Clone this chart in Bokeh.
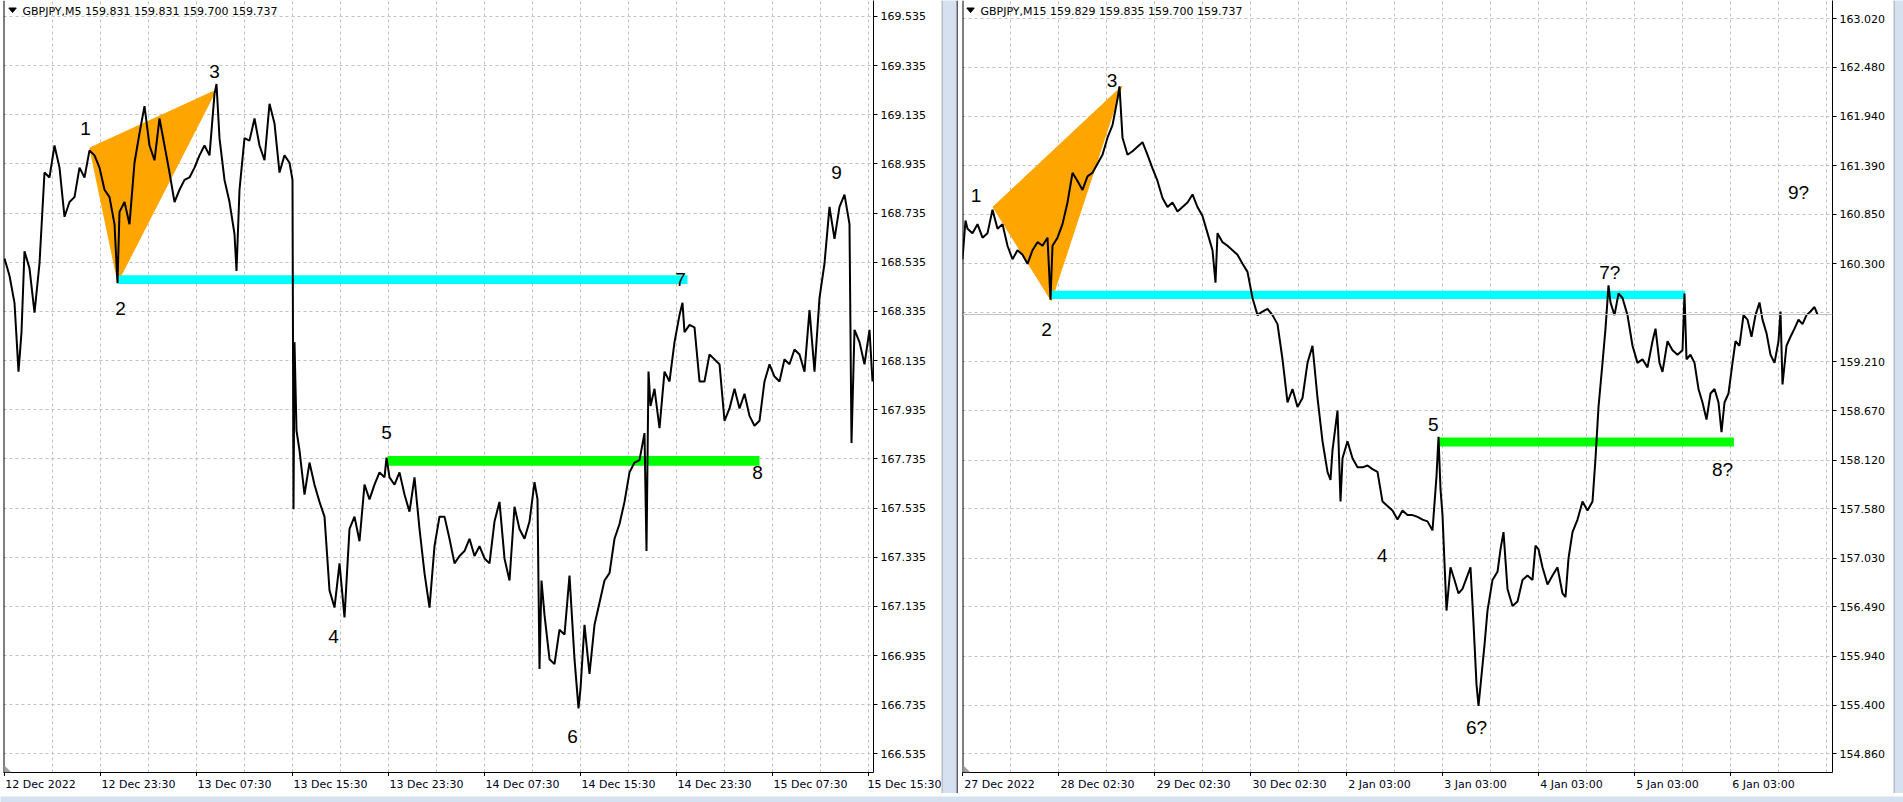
from bokeh.plotting import figure
from bokeh.models import (FixedTicker, PrintfTickFormatter, Label, LabelSet, ColumnDataSource,
                          Span, Range1d, PolyAnnotation)
from bokeh.layouts import row, column
from bokeh.embed import file_html
from bokeh.resources import INLINE
from bokeh.core.properties import value

# ---------------- Left panel : GBPJPY M5 ----------------
L_TITLE = "GBPJPY,M5  159.831 159.831 159.700 159.737"
L_DATES = ["12 Dec 2022", "12 Dec 23:30", "13 Dec 07:30", "13 Dec 15:30", "13 Dec 23:30",
           "14 Dec 07:30", "14 Dec 15:30", "14 Dec 23:30", "15 Dec 07:30", "15 Dec 15:30"]
L_DATE_BARS = [0, 96, 192, 288, 384, 480, 576, 672, 768, 864]
L_YTICKS = [169.535, 169.335, 169.135, 168.935, 168.735, 168.535, 168.335, 168.135,
            167.935, 167.735, 167.535, 167.335, 167.135, 166.935, 166.735, 166.535]
L_SERIES = [(0, 168.55), (5, 168.48), (10, 168.37), (14, 168.09), (17, 168.25), (20, 168.58),
            (25, 168.51), (30, 168.33), (35, 168.53), (40, 168.90), (45, 168.88), (50, 169.01),
            (55, 168.92), (60, 168.72), (65, 168.78), (70, 168.80), (75, 168.92), (80, 168.88),
            (85, 168.99), (90, 168.97), (95, 168.92), (100, 168.83), (105, 168.80), (110, 168.69),
            (113, 168.45), (115, 168.74), (120, 168.78), (125, 168.69), (130, 168.94), (135, 169.06),
            (140, 169.17), (145, 169.01), (150, 168.95), (155, 169.12), (160, 169.01), (165, 168.90),
            (170, 168.78), (175, 168.83), (180, 168.87), (185, 168.88), (190, 168.92), (195, 168.97),
            (200, 169.01), (205, 168.97), (210, 169.22), (212, 169.26), (215, 169.04), (220, 168.87),
            (225, 168.78), (230, 168.65), (232, 168.50), (235, 168.83), (240, 169.04), (245, 169.03),
            (250, 169.12), (255, 169.01), (260, 168.95), (265, 169.18), (270, 169.10), (275, 168.90),
            (280, 168.97), (285, 168.94), (288, 168.87), (289, 167.53), (290, 168.21), (292, 167.85),
            (295, 167.77), (300, 167.59), (305, 167.72), (310, 167.63), (315, 167.56), (320, 167.50),
            (325, 167.20), (330, 167.13), (335, 167.31), (340, 167.09), (345, 167.45), (350, 167.50),
            (355, 167.40), (360, 167.63), (365, 167.57), (370, 167.63), (375, 167.68), (380, 167.66),
            (382, 167.74), (385, 167.66), (390, 167.63), (395, 167.68), (400, 167.59), (405, 167.52),
            (410, 167.66), (415, 167.45), (420, 167.27), (425, 167.13), (430, 167.38), (435, 167.50),
            (440, 167.50), (445, 167.41), (450, 167.31), (455, 167.34), (460, 167.36), (465, 167.41),
            (470, 167.34), (475, 167.38), (480, 167.33), (485, 167.31), (490, 167.48), (495, 167.56),
            (500, 167.33), (505, 167.24), (510, 167.54), (515, 167.45), (520, 167.41), (525, 167.48),
            (530, 167.64), (533, 167.57), (535, 166.88), (537, 167.24), (540, 167.10), (545, 166.92),
            (550, 166.90), (555, 167.04), (560, 167.02), (565, 167.26), (570, 166.92), (574, 166.72),
            (576, 166.80), (580, 167.06), (585, 166.86), (590, 167.06), (595, 167.15), (600, 167.24),
            (605, 167.27), (610, 167.41), (615, 167.47), (620, 167.56), (625, 167.68), (630, 167.72),
            (635, 167.73), (640, 167.84), (642, 167.36), (644, 168.09), (646, 167.95), (650, 168.02),
            (655, 167.86), (660, 168.09), (665, 168.05), (670, 168.21), (675, 168.32), (678, 168.37),
            (680, 168.25), (685, 168.28), (690, 168.27), (695, 168.05), (700, 168.05), (705, 168.16),
            (710, 168.14), (715, 168.12), (720, 167.89), (725, 167.94), (730, 168.02), (735, 167.94),
            (740, 168.00), (745, 167.91), (750, 167.87), (755, 167.89), (760, 168.05), (765, 168.12),
            (770, 168.07), (775, 168.05), (780, 168.14), (785, 168.12), (790, 168.18), (795, 168.16),
            (800, 168.09), (805, 168.34), (810, 168.09), (815, 168.39), (820, 168.53), (825, 168.76),
            (830, 168.63), (835, 168.76), (840, 168.81), (845, 168.69), (847, 167.80), (850, 168.26),
            (855, 168.21), (860, 168.12), (865, 168.26), (868, 168.05)]
L_PATTERN_BARS = [85.3, 113.3, 211.5]
L_PATTERN_PRICES = [169.00, 168.455, 169.235]
L_CYAN = [113.3, 683.0, 168.447, 168.482]     # from bar, to bar, low, high
L_GREEN = [383.0, 755.0, 167.707, 167.747]
L_MARKS = ["1", "2", "3", "4", "5", "6", "7", "8", "9"]
L_MARK_BARS = [81, 116, 210, 329, 382, 568, 676, 753, 832]
L_MARK_PRICES = [169.079, 168.347, 169.311, 167.012, 167.842, 166.605, 168.465, 167.679, 168.900]

# ---------------- Right panel : GBPJPY M15 ----------------
R_TITLE = "GBPJPY,M15  159.829 159.835 159.700 159.737"
R_DATES = ["27 Dec 2022", "28 Dec 02:30", "29 Dec 02:30", "30 Dec 02:30", "2 Jan 03:00",
           "3 Jan 03:00", "4 Jan 03:00", "5 Jan 03:00", "6 Jan 03:00"]
R_DATE_BARS = [0, 96, 192, 288, 384, 480, 576, 672, 768]
R_YTICKS = [163.020, 162.480, 161.940, 161.390, 160.850, 160.300, 159.760, 159.210, 158.670,
            158.120, 157.580, 157.030, 156.490, 155.940, 155.400, 154.860]
R_LAST = 159.737
R_SERIES = [(0, 160.35), (3, 160.78), (5, 160.69), (10, 160.64), (15, 160.74), (20, 160.59),
            (25, 160.64), (30, 160.90), (35, 160.69), (40, 160.74), (45, 160.50), (50, 160.35),
            (55, 160.45), (60, 160.40), (65, 160.30), (70, 160.45), (75, 160.54), (80, 160.50),
            (85, 160.59), (88, 159.90), (90, 160.50), (95, 160.59), (100, 160.74), (105, 160.98),
            (110, 161.31), (115, 161.22), (120, 161.12), (125, 161.27), (130, 161.31), (135, 161.41),
            (140, 161.51), (145, 161.70), (150, 161.84), (155, 162.13), (157, 162.27), (160, 161.70),
            (165, 161.51), (170, 161.55), (175, 161.60), (180, 161.65), (185, 161.51), (190, 161.36),
            (195, 161.22), (200, 161.03), (205, 160.93), (210, 160.98), (215, 160.88), (220, 160.93),
            (225, 160.98), (230, 161.07), (235, 160.93), (240, 160.83), (245, 160.64), (250, 160.45),
            (253, 160.09), (255, 160.64), (260, 160.54), (265, 160.50), (270, 160.45), (275, 160.40),
            (280, 160.30), (285, 160.21), (290, 159.92), (295, 159.73), (300, 159.77), (305, 159.80),
            (310, 159.73), (315, 159.63), (320, 159.24), (325, 158.76), (330, 158.91), (335, 158.71),
            (340, 158.81), (345, 159.20), (350, 159.39), (355, 158.81), (360, 158.33), (365, 157.99),
            (368, 157.90), (370, 158.23), (375, 158.67), (378, 157.66), (380, 158.14), (385, 158.33),
            (390, 158.14), (395, 158.04), (400, 158.04), (405, 158.06), (410, 158.02), (415, 157.99),
            (420, 157.66), (425, 157.61), (430, 157.56), (435, 157.46), (440, 157.56), (445, 157.51),
            (450, 157.51), (455, 157.49), (460, 157.46), (465, 157.44), (470, 157.34), (474, 157.94),
            (476, 158.38), (478, 157.80), (480, 157.51), (484, 156.45), (488, 156.93), (492, 156.79),
            (496, 156.64), (500, 156.69), (505, 156.84), (508, 156.93), (511, 156.31), (514, 155.63),
            (516, 155.39), (519, 155.73), (522, 156.07), (525, 156.45), (530, 156.79), (535, 156.88),
            (538, 157.13), (541, 157.32), (545, 156.69), (550, 156.50), (555, 156.55), (560, 156.79),
            (565, 156.84), (570, 156.79), (573, 157.17), (576, 157.13), (580, 156.93), (585, 156.74),
            (590, 156.84), (595, 156.93), (600, 156.64), (603, 156.60), (606, 157.03), (610, 157.32),
            (615, 157.46), (620, 157.66), (625, 157.56), (630, 157.66), (633, 158.14), (636, 158.71),
            (640, 159.20), (643, 159.58), (646, 160.06), (648, 159.87), (652, 159.73), (656, 159.97),
            (660, 159.92), (665, 159.73), (670, 159.39), (675, 159.20), (680, 159.24), (685, 159.15),
            (690, 159.44), (693, 159.58), (697, 159.20), (700, 159.10), (705, 159.44), (710, 159.34),
            (715, 159.29), (720, 159.34), (722, 159.97), (724, 159.24), (728, 159.29), (732, 159.20),
            (736, 158.91), (740, 158.76), (744, 158.57), (748, 158.86), (752, 158.91), (756, 158.76),
            (759, 158.43), (762, 158.76), (766, 158.86), (770, 159.20), (773, 159.44), (777, 159.39),
            (781, 159.73), (785, 159.68), (789, 159.49), (793, 159.73), (797, 159.87), (800, 159.68),
            (804, 159.53), (808, 159.29), (812, 159.20), (816, 159.44), (818, 159.77), (820, 158.96),
            (824, 159.39), (828, 159.49), (832, 159.58), (836, 159.68), (840, 159.63), (844, 159.73),
            (848, 159.77), (852, 159.82), (855, 159.737)]
R_PATTERN_BARS = [30.5, 88.8, 159.3]
R_PATTERN_PRICES = [160.93, 159.89, 162.27]
R_CYAN = [88.8, 722.5, 159.91, 160.00]
R_GREEN = [475.6, 771.4, 158.27, 158.37]
R_MARKS = ["1", "2", "3", "4", "5", "6?", "7?", "8?", "9?"]
R_MARK_BARS = [13.5, 84, 149.5, 419.7, 470.8, 514, 647.3, 760, 836]
R_MARK_PRICES = [161.053, 159.569, 162.340, 157.063, 158.519, 155.151, 160.206, 158.012, 161.087]

FONT = "DejaVu Sans"
MARK_FONT = "Liberation Sans"
FRAME_W, FRAME_H = 870, 772
TICK_BORDER = 4          # room for the x tick marks under each chart
DATE_H = 17              # strip carrying the date labels
FRAME_BLUE = "#d5e1f0"

# approximate DejaVu Sans advance widths (em) used to left-align date labels at their ticks
_W = {" ": 0.318, ":": 0.337, "D": 0.770, "e": 0.615, "c": 0.550, "J": 0.295, "a": 0.613, "n": 0.634}


def text_w(s, px=11):
    return sum(_W.get(ch, 0.636) for ch in s) * px


def panel(title, x0, x1, y0, y1, yticks, ylabel_ticks, date_bars, series,
          pat_x, pat_y, cyan, green, marks, mark_x, mark_y, b_left, b_right, title_x, tri_x):
    p = figure(frame_width=FRAME_W, frame_height=FRAME_H, x_range=Range1d(x0, x1),
               y_range=Range1d(y0, y1), y_axis_location="right", toolbar_location=None,
               output_backend="svg", min_border_left=b_left, min_border_right=b_right,
               min_border_top=0, min_border_bottom=TICK_BORDER, outline_line_color=None,
               background_fill_color="white", border_fill_color="white")
    # axes
    p.yaxis.ticker = FixedTicker(ticks=ylabel_ticks)
    p.yaxis.formatter = PrintfTickFormatter(format="%.3f")
    p.xaxis.ticker = FixedTicker(ticks=date_bars)
    p.xaxis.major_label_overrides = {b: "" for b in date_bars}
    p.xaxis.major_label_standoff = 0
    for ax in (p.xaxis[0], p.yaxis[0]):
        ax.axis_line_color = "black"
        ax.major_tick_line_color = "black"
        ax.minor_tick_line_color = None
        ax.major_tick_in = 0
        ax.major_tick_out = 4
        ax.major_label_text_font = FONT
        ax.major_label_text_font_size = "11px"
        ax.major_label_text_color = "black"
    p.xaxis.major_label_text_font_size = "0px"
    p.yaxis.major_label_standoff = 3

    # grids
    p.xgrid.ticker = FixedTicker(ticks=list(range(48, int(x1), 48)))
    p.ygrid.ticker = FixedTicker(ticks=yticks)
    for g in (p.xgrid[0], p.ygrid[0]):
        g.grid_line_color = "#c0c0c0"
        g.grid_line_dash = "3 3"
        g.grid_line_width = 1

    # left frame border
    p.add_layout(Span(location=x0, dimension="height", line_color="black", line_width=2))

    # pattern objects
    p.patch(pat_x, pat_y, fill_color="#FFA500", line_color="#FFA500", line_width=1)
    p.quad(left=[cyan[0]], right=[cyan[1]], bottom=[cyan[2]], top=[cyan[3]],
           fill_color="#00FFFF", line_color=None)
    p.quad(left=[green[0]], right=[green[1]], bottom=[green[2]], top=[green[3]],
           fill_color="#00FF00", line_color=None)

    # price line
    xs = [b for b, _ in series]
    ys = [v for _, v in series]
    p.line(xs, ys, line_color="black", line_width=2)

    # wave labels
    src = ColumnDataSource(dict(x=mark_x, y=mark_y, t=marks))
    p.add_layout(LabelSet(x="x", y="y", text="t", source=src, text_align="center",
                          text_baseline="middle", text_font=value(MARK_FONT),
                          text_font_size=value("19px"), text_color="black"))

    # title
    p.add_layout(PolyAnnotation(xs=[tri_x, tri_x + 7.5, tri_x + 3.75],
                                ys=[FRAME_H - 7.5, FRAME_H - 7.5, FRAME_H - 12],
                                xs_units="screen", ys_units="screen", fill_color="black",
                                fill_alpha=1, line_color="black", line_alpha=1))
    p.add_layout(Label(x=title_x, y=FRAME_H - 4, x_units="screen", y_units="screen", text=title,
                       text_font=FONT, text_font_size="11px", text_color="black",
                       text_align="left", text_baseline="top"))
    # corner marker
    p.add_layout(PolyAnnotation(xs=[1, 1, 8], ys=[7, 0, 0], xs_units="screen", ys_units="screen",
                                fill_color="#a0a0a0", fill_alpha=1, line_color=None))
    return p


def date_strip(dates, date_bars, x0, b_left, b_right):
    """Date labels left-aligned at their tick (MetaTrader style): a 1px-high strip on the same
    bar scale whose axis puts each label's centre half a label-width right of its tick."""
    w = b_left + FRAME_W + b_right
    start = x0 - b_left
    centres = [int(round(b - 2 + text_w(t) / 2)) for b, t in zip(date_bars, dates)]
    s = figure(frame_width=w, frame_height=1, toolbar_location=None, output_backend="svg",
               y_axis_type=None, min_border_left=0, min_border_right=0, min_border_top=0,
               min_border_bottom=DATE_H - 1, outline_line_color=None,
               background_fill_color="white", border_fill_color="white",
               x_range=Range1d(start, start + w), y_range=Range1d(0, 1))
    s.grid.visible = False
    ax = s.xaxis[0]
    ax.ticker = FixedTicker(ticks=centres)
    ax.major_label_overrides = {c: t for c, t in zip(centres, dates)}
    ax.axis_line_color = None
    ax.major_tick_line_color = None
    ax.minor_tick_line_color = None
    ax.major_tick_in = 0
    ax.major_tick_out = 0
    ax.major_label_standoff = 0
    ax.major_label_text_font = FONT
    ax.major_label_text_font_size = "11px"
    ax.major_label_text_color = "#000020"
    return s


left = panel(L_TITLE, -1, 869, 166.459, 169.600, L_YTICKS, L_YTICKS, L_DATE_BARS,
             L_SERIES, L_PATTERN_BARS, L_PATTERN_PRICES, L_CYAN, L_GREEN,
             L_MARKS, L_MARK_BARS, L_MARK_PRICES, 3, 68, 19, 5.3)
left_dates = date_strip(L_DATES, L_DATE_BARS, -1, 3, 68)

r_label_ticks = [t for t in R_YTICKS if abs(t - R_LAST) > 0.1]
right = panel(R_TITLE, 0, 870, 154.652, 163.223, R_YTICKS, r_label_ticks, R_DATE_BARS,
              R_SERIES, R_PATTERN_BARS, R_PATTERN_PRICES, R_CYAN, R_GREEN,
              R_MARKS, R_MARK_BARS, R_MARK_PRICES, 4, 61, 18, 4.3)
right.add_layout(Span(location=R_LAST, dimension="width", line_color="#c0c0c0", line_width=1))
right.add_layout(Label(x=FRAME_W + 1, y=R_LAST, x_units="screen", text="%.3f" % R_LAST,
                       text_font=FONT, text_font_size="11px", text_color="white",
                       text_align="left", text_baseline="middle", x_offset=2,
                       background_fill_color="black", padding=2))
right_dates = date_strip(R_DATES, R_DATE_BARS, 0, 4, 61)


def strip(w, h, lines=()):
    s = figure(width=w, height=h, toolbar_location=None, output_backend="svg",
               x_axis_type=None, y_axis_type=None,
               min_border=0, outline_line_color=None, background_fill_color=FRAME_BLUE,
               border_fill_color=FRAME_BLUE, x_range=Range1d(0, w), y_range=Range1d(0, h))
    s.grid.visible = False
    for x, c, lw in lines:
        s.segment(x0=[x], y0=[0], x1=[x], y1=[h], line_color=c, line_width=lw)
    return s


H = FRAME_H + TICK_BORDER + DATE_H
sep = strip(17, H, [(0.5, "#a0a0a0", 1), (16, "#606060", 2)])
sep_right = strip(10, H, [(0.5, "#a0a0a0", 1)])
bottom = strip(1903, 9)

layout = column(row(column(left, left_dates), sep, column(right, right_dates), sep_right), bottom)
open("out.html", "w").write(file_html(layout, INLINE))
